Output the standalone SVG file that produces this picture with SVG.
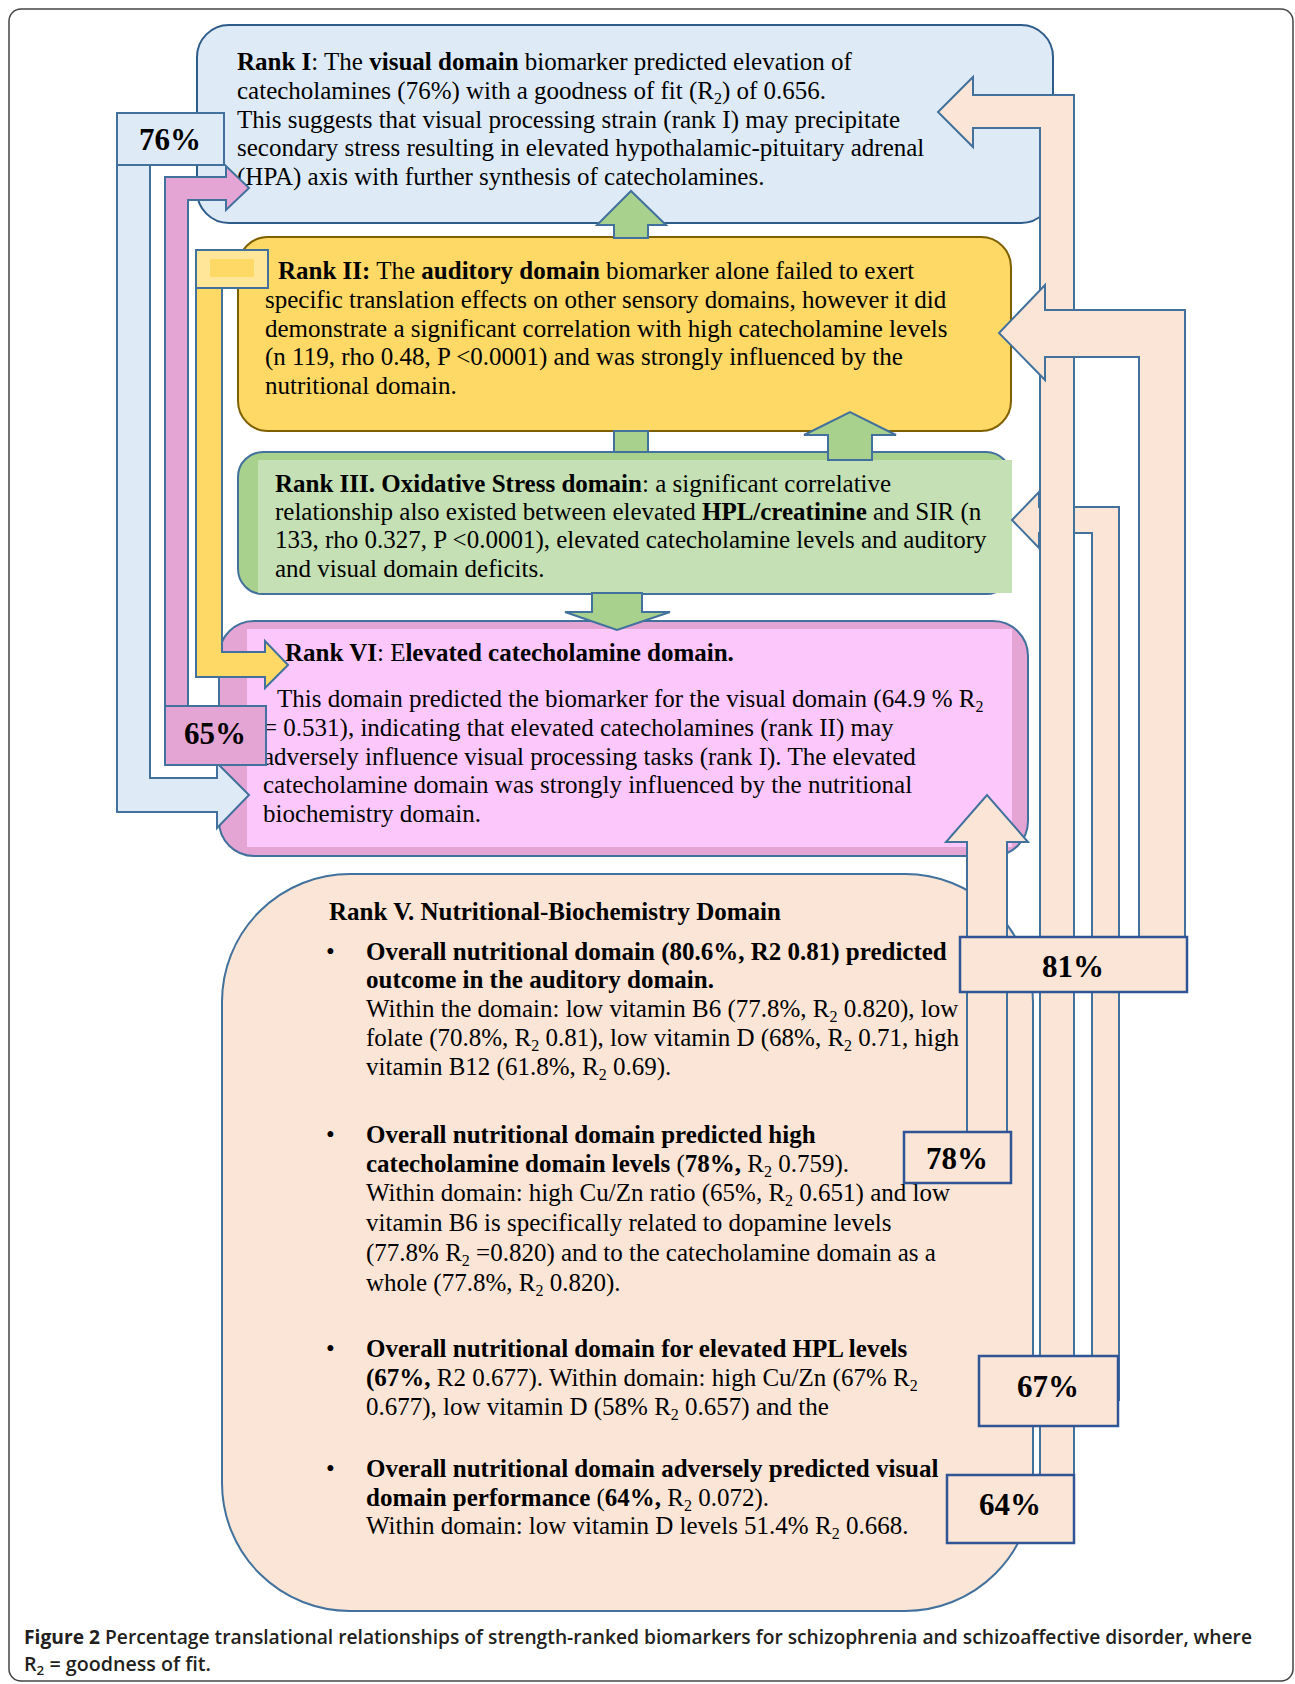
<svg xmlns="http://www.w3.org/2000/svg" width="1295" height="1684" viewBox="0 0 1295 1684">
<style>
.t{font-family:"Liberation Serif","Times New Roman",serif;font-size:25px;fill:#000}
.b{font-weight:bold}
.s{font-size:16px}
.pct{font-family:"Liberation Serif","Times New Roman",serif;font-size:31px;font-weight:bold;text-anchor:middle;fill:#000}
.cap{font-family:"Open Sans","Liberation Sans",sans-serif;font-size:19px;font-weight:600;fill:#231f20}
.ar{stroke:#41719C;stroke-width:2;stroke-linejoin:miter}
.peach{fill:#FBE5D6}
.green{fill:#A9D18E}
.lbl{stroke:#2F5597;stroke-width:2.5}
</style>
<rect x="9" y="9" width="1284" height="1672" rx="12" fill="#fff" stroke="#444" stroke-width="1.5"/>

<g id="rank5">
<rect x="222" y="874" width="811" height="737" rx="128" fill="#FBE5D6" stroke="#41719C" stroke-width="2"/>
<text class="t b" x="329" y="920">Rank V. Nutritional-Biochemistry Domain</text>
<text class="t" x="326" y="960">•</text>
<text class="t b" x="366" y="960">Overall nutritional domain (80.6%, R2 0.81) predicted</text>
<text class="t b" x="366" y="988">outcome in the auditory domain.</text>
<text class="t" x="366" y="1017">Within the domain: low vitamin B6 (77.8%, R<tspan class="s" dy="5">2</tspan><tspan dy="-5"> 0.820), low</tspan></text>
<text class="t" x="366" y="1046">folate (70.8%, R<tspan class="s" dy="5">2</tspan><tspan dy="-5"> 0.81), low vitamin D (68%, R</tspan><tspan class="s" dy="5">2</tspan><tspan dy="-5"> 0.71, high</tspan></text>
<text class="t" x="366" y="1075">vitamin B12 (61.8%, R<tspan class="s" dy="5">2</tspan><tspan dy="-5"> 0.69).</tspan></text>
<text class="t" x="326" y="1143">•</text>
<text class="t b" x="366" y="1143">Overall nutritional domain predicted high</text>
<text class="t" x="366" y="1172"><tspan class="b">catecholamine domain levels</tspan> (<tspan class="b">78%,</tspan> R<tspan class="s" dy="5">2</tspan><tspan dy="-5"> 0.759).</tspan></text>
<text class="t" x="366" y="1201">Within domain: high Cu/Zn ratio (65%, R<tspan class="s" dy="5">2</tspan><tspan dy="-5"> 0.651) and low</tspan></text>
<text class="t" x="366" y="1231">vitamin B6 is specifically related to dopamine levels</text>
<text class="t" x="366" y="1261">(77.8% R<tspan class="s" dy="5">2</tspan><tspan dy="-5"> =0.820) and to the catecholamine domain as a</tspan></text>
<text class="t" x="366" y="1291">whole (77.8%, R<tspan class="s" dy="5">2</tspan><tspan dy="-5"> 0.820).</tspan></text>
<text class="t" x="326" y="1357">•</text>
<text class="t b" x="366" y="1357">Overall nutritional domain for elevated HPL levels</text>
<text class="t" x="366" y="1386"><tspan class="b">(67%,</tspan> R2 0.677). Within domain: high Cu/Zn (67% R<tspan class="s" dy="5">2</tspan></text>
<text class="t" x="366" y="1415">0.677), low vitamin D (58% R<tspan class="s" dy="5">2</tspan><tspan dy="-5"> 0.657) and the</tspan></text>
<text class="t" x="326" y="1477">•</text>
<text class="t b" x="366" y="1477">Overall nutritional domain adversely predicted visual</text>
<text class="t" x="366" y="1506"><tspan class="b">domain performance</tspan> (<tspan class="b">64%,</tspan> R<tspan class="s" dy="5">2</tspan><tspan dy="-5"> 0.072).</tspan></text>
<text class="t" x="366" y="1534">Within domain: low vitamin D levels 51.4% R<tspan class="s" dy="5">2</tspan><tspan dy="-5"> 0.668.</tspan></text>
</g>

<g id="rank1">
<rect x="197" y="25" width="856" height="198" rx="32" fill="#DEEBF7" stroke="#2E5C8A" stroke-width="2"/>
<text class="t" x="237" y="70"><tspan class="b">Rank I</tspan>: The <tspan class="b">visual domain</tspan> biomarker predicted elevation of</text>
<text class="t" x="237" y="99">catecholamines (76%) with a goodness of fit (R<tspan class="s" dy="5">2</tspan><tspan dy="-5">) of 0.656.</tspan></text>
<text class="t" x="237" y="128">This suggests that visual processing strain (rank I) may precipitate</text>
<text class="t" x="237" y="156">secondary stress resulting in elevated hypothalamic-pituitary adrenal</text>
<text class="t" x="237" y="185">(HPA) axis with further synthesis of catecholamines.</text>
</g>

<g id="rank2">
<rect x="238" y="237" width="773" height="194" rx="30" fill="#FFD966" stroke="#7F6000" stroke-width="2"/>
<text class="t" x="278" y="279"><tspan class="b">Rank II:</tspan> The <tspan class="b">auditory domain</tspan> biomarker alone failed to exert</text>
<text class="t" x="265" y="308">specific translation effects on other sensory domains, however it did</text>
<text class="t" x="265" y="337">demonstrate a significant correlation with high catecholamine levels</text>
<text class="t" x="265" y="365">(n 119, rho 0.48, P &lt;0.0001) and was strongly influenced by the</text>
<text class="t" x="265" y="394">nutritional domain.</text>
</g>

<g id="rank3">
<rect x="238" y="452" width="773" height="142" rx="25" fill="#A9D18E" stroke="#41719C" stroke-width="2"/>
<rect x="258" y="460" width="754" height="133" fill="#C5E0B4"/>
<text class="t" x="275" y="492"><tspan class="b">Rank III. Oxidative Stress domain</tspan>: a significant correlative</text>
<text class="t" x="275" y="520">relationship also existed between elevated <tspan class="b">HPL/creatinine</tspan> and SIR (n</text>
<text class="t" x="275" y="548">133, rho 0.327, P &lt;0.0001), elevated catecholamine levels and auditory</text>
<text class="t" x="275" y="577">and visual domain deficits.</text>
</g>

<g id="rank6">
<rect x="219" y="621" width="809" height="235" rx="35" fill="#E4A4D4" stroke="#41719C" stroke-width="2"/>
<rect x="247" y="629" width="765" height="218" fill="#FCC8FC"/>
<text class="t" x="285" y="661"><tspan class="b">Rank VI</tspan>: E<tspan class="b">levated catecholamine domain.</tspan></text>
<text class="t" x="277" y="707">This domain predicted the biomarker for the visual domain (64.9 % R<tspan class="s" dy="5">2</tspan></text>
<text class="t" x="263" y="736">= 0.531), indicating that elevated catecholamines (rank II) may</text>
<text class="t" x="263" y="765">adversely influence visual processing tasks (rank I). The elevated</text>
<text class="t" x="263" y="793">catecholamine domain was strongly influenced by the nutritional</text>
<text class="t" x="263" y="822">biochemistry domain.</text>
</g>

<g id="connectors">
<path class="ar green" d="M614,238 V225 H597 L631,191 L666,225 H648 V238 Z"/>
<rect class="ar green" x="614" y="431" width="34" height="21"/>
<path class="ar green" d="M828,460 V435 H804 L850,412 L896,435 H872 V460 Z"/>
<path class="ar green" d="M592,593 V612 H565 L617,630 L670,612 H642 V593 Z"/>

<path class="ar" fill="#DEEBF7" d="M117,150 V812 H217 V828 L249,795 L217,763 V778 H150 V150 Z"/>
<path class="ar" fill="#E4A4D4" d="M165,735 V177 H226 V166 L249,188 L226,210 V200 H188 V735 Z"/>
<path class="ar" fill="#FFD966" d="M196,270 V677 H265 V688 L288,665 L265,641 V652 H222 V270 Z"/>

<path class="ar peach" d="M1092,1400 V533 H1039 V548 L1012,520 L1039,492 V507 H1119 V1400 Z"/>
<path class="ar peach" d="M1040,1510 V128 H973 V147 L938,112 L973,77 V95 H1074 V1510 Z"/>
<path class="ar peach" d="M1139,965 V357 H1045 V380 L999,333 L1045,285 V310 H1185 V965 Z"/>
<path class="ar peach" d="M967,1160 V842 H946 L987,795 L1028,842 H1007 V1160 Z"/>

<g id="label76"><rect class="ar" x="117" y="113" width="107" height="52" fill="#DEEBF7"/><text class="pct" x="170" y="150">76%</text></g>
<g id="label65"><rect class="ar" x="165" y="706" width="101" height="59" fill="#E4A4D4"/><text class="pct" x="215" y="744">65%</text></g>
<g id="labelYellow"><rect class="ar" x="196" y="250" width="72" height="38" fill="#FFE699"/><rect x="210" y="259" width="44" height="18" fill="#FFD966"/></g>
<g id="label81"><rect class="lbl peach" x="960" y="937" width="227" height="55"/><text class="pct" x="1073" y="977">81%</text></g>
<g id="label78"><rect class="lbl peach" x="904" y="1132" width="107" height="51"/><text class="pct" x="957" y="1169">78%</text></g>
<g id="label67"><rect class="lbl peach" x="979" y="1356" width="139" height="70"/><text class="pct" x="1048" y="1397">67%</text></g>
<g id="label64"><rect class="lbl peach" x="947" y="1475" width="127" height="68"/><text class="pct" x="1010" y="1515">64%</text></g>
</g>

<text class="cap" x="24" y="1644" textLength="1228" lengthAdjust="spacingAndGlyphs"><tspan font-weight="700">Figure 2</tspan> Percentage translational relationships of strength-ranked biomarkers for schizophrenia and schizoaffective disorder, where</text>
<text class="cap" x="24" y="1671" textLength="187" lengthAdjust="spacingAndGlyphs">R<tspan font-size="13" dy="4">2</tspan><tspan dy="-4"> = goodness of fit.</tspan></text>
</svg>
